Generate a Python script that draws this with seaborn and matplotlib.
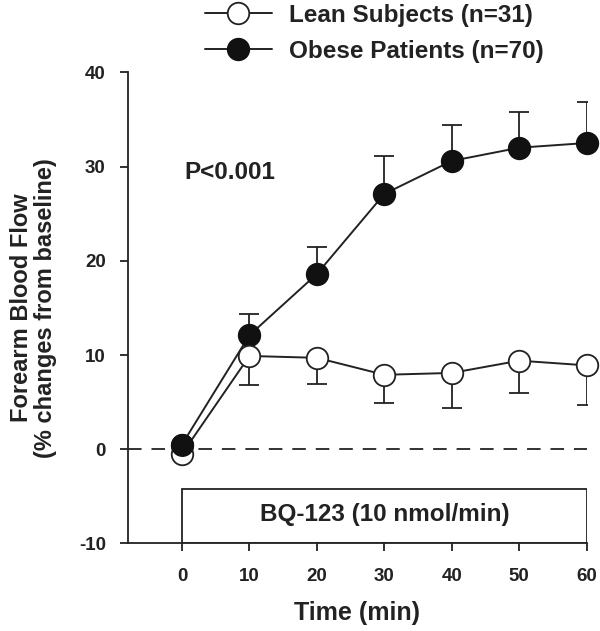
import numpy as np
import pandas as pd
import matplotlib
matplotlib.use("Agg")
import matplotlib.pyplot as plt
import seaborn as sns

# data
time = [0, 10, 20, 30, 40, 50, 60]
lean = [-0.5, 9.9, 9.7, 7.9, 8.1, 9.4, 8.9]
lean_err = [0, 3.1, 2.8, 3.0, 3.7, 3.4, 4.2]
obese = [0.5, 12.1, 18.6, 27.1, 30.6, 32.0, 32.5]
obese_err = [0, 2.2, 2.9, 4.0, 3.8, 3.8, 4.4]
labels = ['Lean Subjects (n=31)', 'Obese Patients (n=70)']
drug_label = 'BQ-123 (10 nmol/min)'

sns.set_style("ticks")
plt.rcParams['font.family'] = ['Liberation Sans', 'DejaVu Sans']
plt.rcParams['font.weight'] = 'bold'
plt.rcParams['axes.unicode_minus'] = False

df = pd.DataFrame({'Time': time * 2,
                   'Flow': lean + obese,
                   'Group': [labels[0]] * 7 + [labels[1]] * 7})

ink = '#222222'
fig = plt.figure(figsize=(6.0, 6.31), dpi=100)
ax = fig.add_axes([0.2133, 0.1387, 0.978 - 0.2133, 0.8854 - 0.1387])

# baseline
ax.axhline(0, color=ink, lw=1.3, ls=(0, (7.5, 5.5)), zorder=1)

# one-sided error bars
ax.errorbar(time, obese, yerr=[np.zeros(7), obese_err], fmt='none',
            ecolor=ink, elinewidth=1.3, capsize=7, capthick=1.3, zorder=2)
ax.errorbar(time, lean, yerr=[lean_err, np.zeros(7)], fmt='none',
            ecolor=ink, elinewidth=1.3, capsize=7, capthick=1.3, zorder=2)

sns.lineplot(data=df[df.Group == labels[1]], x='Time', y='Flow', ax=ax,
             color=ink, lw=1.4, marker='o', markersize=15.5,
             markerfacecolor='#111111', markeredgecolor='#111111',
             markeredgewidth=1.3, label=labels[1], zorder=3, clip_on=False)
sns.lineplot(data=df[df.Group == labels[0]], x='Time', y='Flow', ax=ax,
             color=ink, lw=1.4, marker='o', markersize=15.5,
             markerfacecolor='white', markeredgecolor=ink,
             markeredgewidth=1.3, label=labels[0], zorder=4, clip_on=False)
# first obese point sits on top of the lean one
ax.plot(time[:1], obese[:1], 'o', ms=15.5, mfc='#111111', mec='#111111',
        zorder=5, clip_on=False)

# infusion box
ax.add_patch(plt.Rectangle((time[0], -10), time[-1] - time[0], 5.8, fill=False,
                           ec=ink, lw=1.3, zorder=1))
ax.text((time[0] + time[-1]) / 2, -6.9, drug_label, ha='center', va='center',
        fontsize=17.5, fontweight='bold', color=ink)

ax.text(0.4, 29.4, 'P<0.001', ha='left', va='center', fontsize=17.5,
        fontweight='bold', color=ink)

ax.set_xlim(-8, 60)
ax.set_ylim(-10, 40)
ax.set_xticks(time)
ax.set_yticks([-10, 0, 10, 20, 30, 40])
ax.tick_params(axis='both', length=6, width=1.3, color=ink,
               labelsize=13.5, labelcolor=ink, pad=10)
ax.tick_params(axis='x', pad=12)
for lab in ax.get_xticklabels() + ax.get_yticklabels():
    lab.set_fontweight('bold')
for s in ['left', 'bottom']:
    ax.spines[s].set_linewidth(1.3)
    ax.spines[s].set_color(ink)
sns.despine(ax=ax)

ax.set_xlabel('Time (min)', fontsize=18, fontweight='bold', color=ink, labelpad=11)
ax.set_ylabel('Forearm Blood Flow\n(% changes from baseline)', fontsize=17,
              fontweight='bold', color=ink, linespacing=1.05)
ax.yaxis.set_label_coords(-0.155, 0.5)

handles, lbls = ax.get_legend_handles_labels()
ax.get_legend().remove()
order = [lbls.index(labels[0]), lbls.index(labels[1])]
leg = fig.legend([handles[i] for i in order], [lbls[i] for i in order],
                 loc='upper left', bbox_to_anchor=(0.305, 1.029), frameon=False,
                 fontsize=17.5, handlelength=2.75, labelspacing=0.54, handletextpad=0.72)
for t in leg.get_texts():
    t.set_fontweight('bold')
    t.set_color(ink)

fig.savefig('out.png', dpi=100)
